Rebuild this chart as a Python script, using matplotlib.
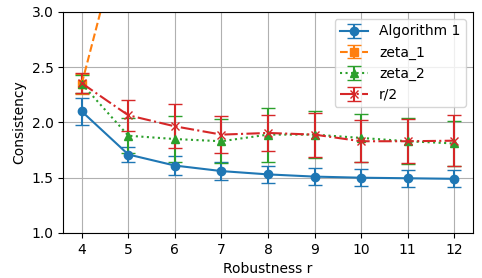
import numpy as np
import matplotlib.pyplot as plt

r = [4, 5, 6, 7, 8, 9, 10, 11, 12]

alg1 = [2.10, 1.71, 1.61, 1.56, 1.53, 1.51, 1.50, 1.495, 1.49]
alg1_err = [0.12, 0.07, 0.085, 0.08, 0.078, 0.08, 0.077, 0.078, 0.077]

# zeta_1 leaves the plotted range after r=4
zeta1 = [2.35, 3.97, 5.6, 7.2, 8.8, 10.4, 12.0, 13.6, 15.2]
zeta1_err = [0.09, 0.12, 0.15, 0.18, 0.2, 0.22, 0.24, 0.26, 0.28]

zeta2 = [2.35, 1.88, 1.85, 1.83, 1.89, 1.89, 1.86, 1.83, 1.81]
zeta2_err = [0.08, 0.16, 0.205, 0.2, 0.245, 0.21, 0.22, 0.21, 0.2]

half_r = [2.355, 2.065, 1.965, 1.89, 1.905, 1.89, 1.83, 1.83, 1.835]
half_r_err = [0.09, 0.14, 0.2, 0.17, 0.16, 0.2, 0.19, 0.2, 0.23]

fig, ax = plt.subplots(figsize=(4.82, 2.78), dpi=100)
fig.subplots_adjust(left=0.131, right=0.981, bottom=0.162, top=0.957)

ax.errorbar(r, alg1, yerr=alg1_err, fmt='-o', capsize=5, label='Algorithm 1')
ax.errorbar(r, zeta1, yerr=zeta1_err, fmt='--s', capsize=5, label='zeta_1')
ax.errorbar(r, zeta2, yerr=zeta2_err, fmt=':^', capsize=5, label='zeta_2')
ax.errorbar(r, half_r, yerr=half_r_err, fmt='-.x', capsize=5, label='r/2')

ax.set_ylim(1.0, 3.0)
ax.set_xticks(r)
ax.set_xlabel('Robustness r')
ax.set_ylabel('Consistency')
ax.grid(True)
ax.legend(loc='upper right')

plt.savefig('out.png')
